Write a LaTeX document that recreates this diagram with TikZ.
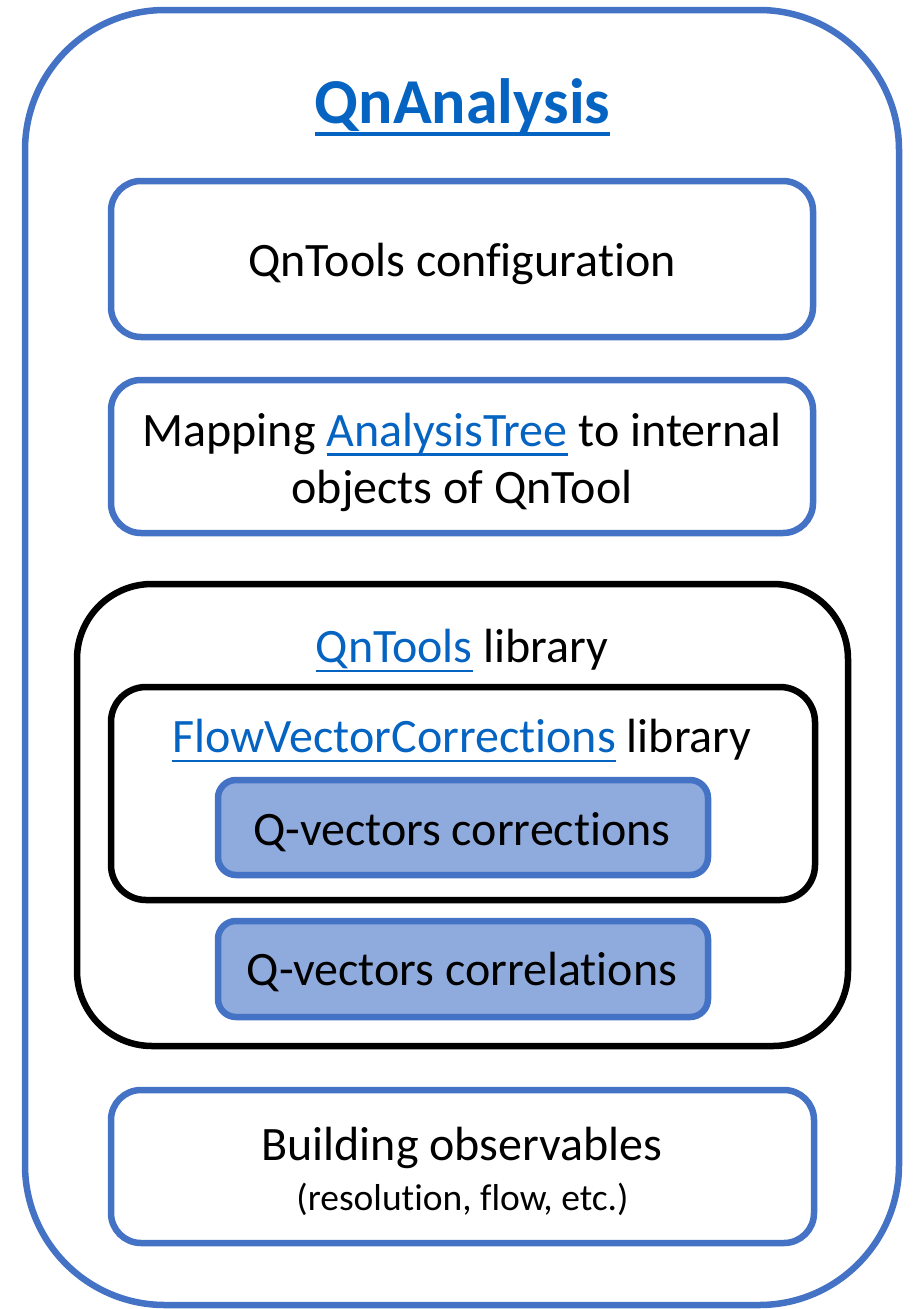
\documentclass[tikz,border=0pt]{standalone}
\usepackage{fontspec}
\setmainfont[Ligatures={NoCommon}]{Carlito}

\definecolor{frameBlue}{HTML}{4472C4}
\definecolor{fillBlue}{HTML}{8FAADC}
\definecolor{linkBlue}{HTML}{0563C1}
\newcommand{\linkText}[1]{\textcolor{linkBlue}{\setbox0\hbox{#1}\rlap{\rule[-0.2em]{\wd0}{0.055em}}\box0}}

\begin{document}
\begin{tikzpicture}[%%
  x=1pt,y=-1pt,%%
  boxStyle/.style={draw=frameBlue,line width=6.5pt,inner sep=0pt,rounded corners=30pt},%%
  libStyle/.style={draw=black,line width=6.5pt,inner sep=0pt},%%
  stepBoxStyle/.style={draw=frameBlue,fill=fillBlue,line width=6.5pt,inner sep=0pt,rounded corners=18pt},%%
  textStyle/.style={inner sep=0pt,align=center,font=\fontsize{48}{57}\selectfont}%%
]
%%
\useasboundingbox (0,0) rectangle (917,1309);
%%
%% Frames.
\node (QnAnalysis) at (462,657.5) [boxStyle,rounded corners=140pt,minimum width=874pt,minimum height=1295pt] {};
\node (Config) at (462,259) [boxStyle,minimum width=702pt,minimum height=156pt] {};
\node (Mapping) at (462,456.5) [boxStyle,minimum width=702pt,minimum height=153pt] {};
\node (QnTools) at (462.5,815) [libStyle,rounded corners=75pt,minimum width=771pt,minimum height=462pt] {};
\node (FlowVec) at (463,793.5) [libStyle,rounded corners=35pt,minimum width=704pt,minimum height=213pt] {};
\node (Corrections) at (463,827.5) [stepBoxStyle,minimum width=490pt,minimum height=95pt] {};
\node (Correlations) at (463,969) [stepBoxStyle,minimum width=490pt,minimum height=96pt] {};
\node (Observables) at (462.5,1166.5) [boxStyle,minimum width=703pt,minimum height=153pt] {};
%%
%% Texts.
\node (QnAnalysisText) at (462.5,107) [textStyle,font=\fontsize{64}{70}\selectfont\bfseries] {\linkText{QnAnalysis}};
\node (ConfigText) at (462,264) [textStyle] {QnTools configuration};
\node (MappingText) at (462,462) [textStyle] {Mapping \linkText{AnalysisTree} to internal\\objects of QnTool};
\node (QnToolsText) at (462,651) [textStyle] {\linkText{QnTools} library};
\node (FlowVecText) at (462,741) [textStyle] {\linkText{FlowVectorCorrections} library};
\node (CorrectionsText) at (462,832) [textStyle] {Q-vectors corrections};
\node (CorrelationsText) at (462,972) [textStyle] {Q-vectors correlations};
\node (ObservablesText) at (462,1148) [textStyle] {Building observables};
\node (ObservablesNote) at (462.5,1199) [textStyle,font=\fontsize{37.5}{44}\selectfont] {(resolution, flow, etc.)};
\end{tikzpicture}
\end{document}
